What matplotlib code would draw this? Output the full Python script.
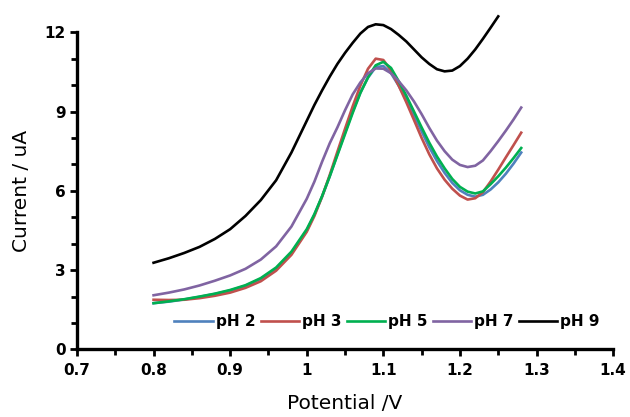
import numpy as np
import matplotlib
matplotlib.use("Agg")
import matplotlib.pyplot as plt
from matplotlib.ticker import MultipleLocator

# potential (V) for the pH 2-7 curves
x_low = [0.80, 0.82, 0.84, 0.86, 0.88, 0.90, 0.92, 0.94, 0.96, 0.98,
         1.00, 1.01, 1.02, 1.03, 1.04, 1.05, 1.06, 1.07, 1.08, 1.09,
         1.10, 1.11, 1.12, 1.13, 1.14, 1.15, 1.16, 1.17, 1.18, 1.19,
         1.20, 1.21, 1.22, 1.23, 1.24, 1.25, 1.26, 1.27, 1.28]
ph2 = [1.75, 1.81, 1.89, 1.99, 2.10, 2.23, 2.41, 2.67, 3.06, 3.65,
       4.50, 5.10, 5.78, 6.55, 7.38, 8.20, 9.00, 9.72, 10.28, 10.68,
       10.72, 10.45, 9.98, 9.45, 8.85, 8.25, 7.65, 7.13, 6.68, 6.30,
       6.02, 5.85, 5.78, 5.85, 6.05, 6.32, 6.65, 7.03, 7.45]
ph3 = [1.88, 1.87, 1.88, 1.94, 2.03, 2.15, 2.33, 2.58, 2.98, 3.58,
       4.45, 5.05, 5.78, 6.60, 7.48, 8.35, 9.20, 9.98, 10.62, 11.00,
       10.95, 10.55, 9.98, 9.35, 8.68, 8.00, 7.38, 6.85, 6.42, 6.08,
       5.82, 5.67, 5.72, 5.95, 6.35, 6.80, 7.27, 7.73, 8.20]
ph5 = [1.75, 1.82, 1.90, 2.00, 2.11, 2.25, 2.43, 2.70, 3.10, 3.70,
       4.55, 5.12, 5.80, 6.55, 7.35, 8.15, 8.95, 9.70, 10.30, 10.75,
       10.88, 10.65, 10.15, 9.60, 9.00, 8.40, 7.82, 7.30, 6.85, 6.45,
       6.15, 5.97, 5.90, 5.98, 6.25, 6.55, 6.88, 7.24, 7.62]
ph7 = [2.05, 2.15, 2.27, 2.42, 2.60, 2.80, 3.05, 3.40, 3.90, 4.65,
       5.70, 6.35, 7.10, 7.80, 8.40, 9.05, 9.65, 10.10, 10.45, 10.63,
       10.62, 10.45, 10.15, 9.80, 9.38, 8.90, 8.38, 7.90, 7.50, 7.18,
       6.98, 6.90, 6.95, 7.15, 7.50, 7.88, 8.28, 8.70, 9.15]

# pH 9 curve
x_ph9 = [0.80, 0.82, 0.84, 0.86, 0.88, 0.90, 0.92, 0.94, 0.96, 0.98,
         1.00, 1.01, 1.02, 1.03, 1.04, 1.05, 1.06, 1.07, 1.08, 1.09,
         1.10, 1.11, 1.12, 1.13, 1.14, 1.15, 1.16, 1.17, 1.18, 1.19,
         1.20, 1.21, 1.22, 1.23, 1.24, 1.25]
ph9 = [3.28, 3.45, 3.65, 3.88, 4.18, 4.55, 5.05, 5.65, 6.40, 7.45,
       8.65, 9.25, 9.80, 10.32, 10.80, 11.22, 11.60, 11.95, 12.20, 12.30,
       12.27, 12.12, 11.90, 11.65, 11.35, 11.05, 10.80, 10.60, 10.52, 10.55,
       10.72, 11.00, 11.35, 11.75, 12.17, 12.60]

fig = plt.figure(figsize=(6.3, 4.17), dpi=100)
ax = fig.add_axes([0.1222, 0.162, 0.851, 0.7607])

ax.plot(x_low, ph2, color="#4F81BD", lw=1.9, label="pH 2", clip_on=False)
ax.plot(x_low, ph3, color="#C0504D", lw=1.9, label="pH 3", clip_on=False)
ax.plot(x_low, ph5, color="#00B050", lw=1.9, label="pH 5", clip_on=False)
ax.plot(x_low, ph7, color="#8064A2", lw=1.9, label="pH 7", clip_on=False)
ax.plot(x_ph9, ph9, color="black", lw=1.9, label="pH 9", clip_on=False)

ax.set_xlim(0.7, 1.4)
ax.set_ylim(0, 12)
ax.xaxis.set_minor_locator(MultipleLocator(0.05))
ax.yaxis.set_major_locator(MultipleLocator(3))
ax.yaxis.set_minor_locator(MultipleLocator(1))
ax.set_xticks([0.7, 0.8, 0.9, 1.0, 1.1, 1.2, 1.3, 1.4])
ax.set_xticklabels(["0.7", "0.8", "0.9", "1", "1.1", "1.2", "1.3", "1.4"])

for s in ["top", "right"]:
    ax.spines[s].set_visible(False)
for s in ["left", "bottom"]:
    ax.spines[s].set_linewidth(2.4)

ax.tick_params(which="major", length=5, width=2, pad=5, labelsize=11)
ax.tick_params(which="minor", length=4, width=2)
ax.tick_params(axis="y", pad=3)
for lab in ax.get_xticklabels() + ax.get_yticklabels():
    lab.set_fontweight("bold")

ax.set_xlabel("Potential /V", fontsize=14.5, labelpad=11)
ax.set_ylabel("Current / uA", fontsize=14.5, labelpad=10)

ax.legend(loc="center right", bbox_to_anchor=(0.975, 0.087), ncol=5,
          frameon=False, prop={"weight": "bold", "size": 11},
          handlelength=2.5, handletextpad=0.2, columnspacing=0.35,
          borderpad=0, borderaxespad=0)

fig.savefig("out.png", dpi=100)
